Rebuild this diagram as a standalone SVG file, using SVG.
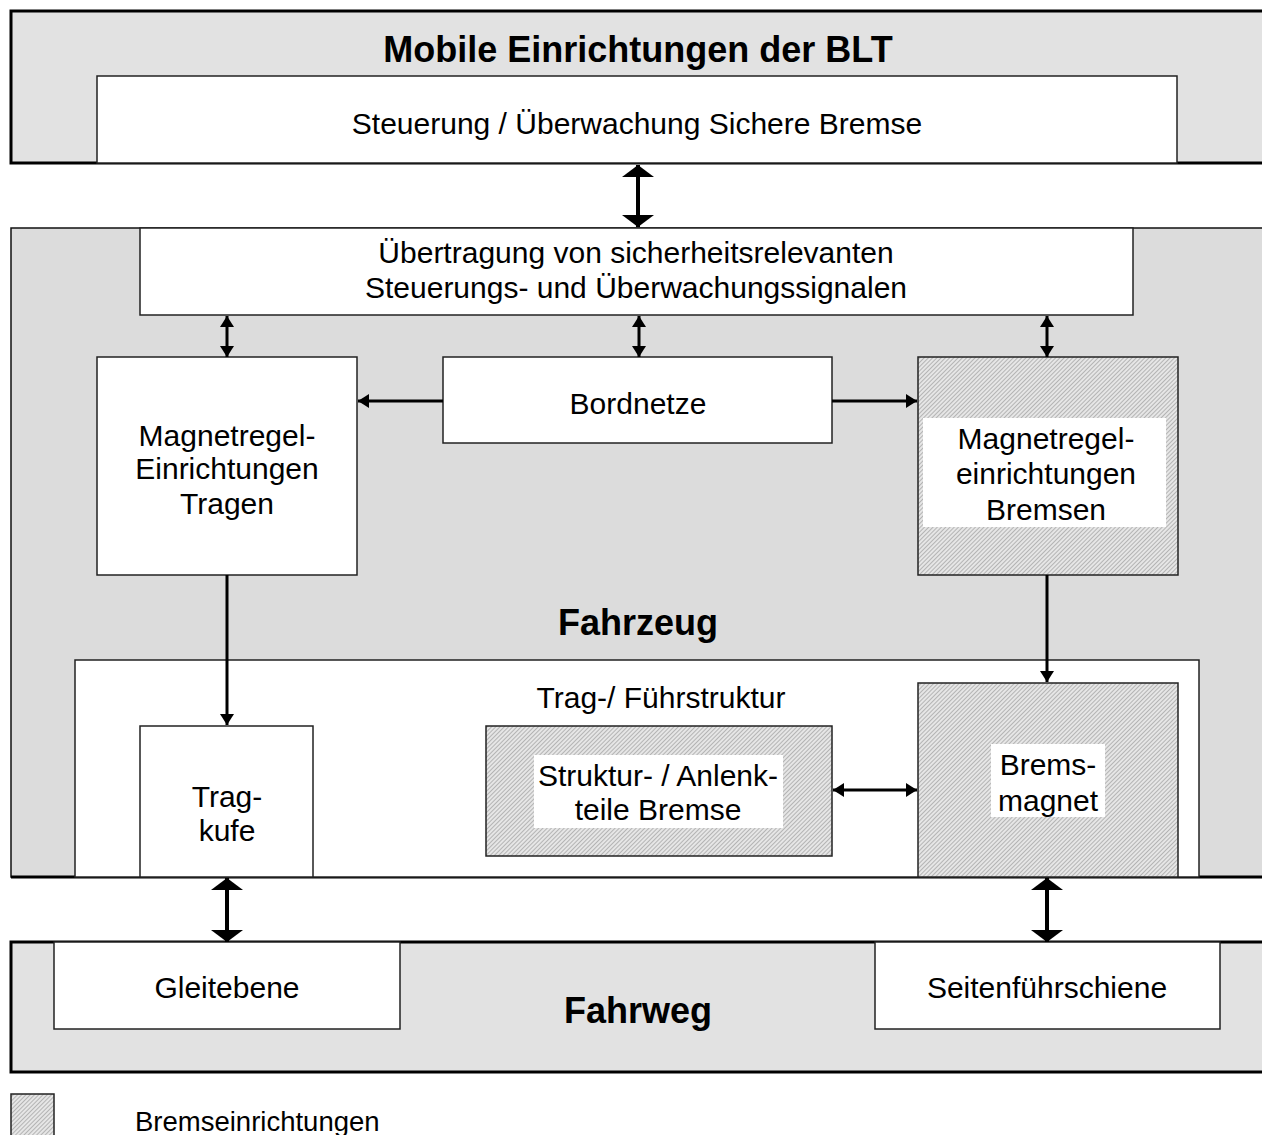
<svg xmlns="http://www.w3.org/2000/svg" width="1262" height="1135" viewBox="0 0 1262 1135">
<style>
text{font-family:"Liberation Sans",Arial,sans-serif;fill:#000;text-anchor:middle}
.t{font-size:30px}
.b{font-size:36px;font-weight:bold}
.panel{fill:#e2e2e2;stroke:#000;stroke-width:3}
.mid{fill:#dcdcdc;stroke:#111;stroke-width:1.5}
.box{fill:#fff;stroke:#222;stroke-width:1.5}
.hat{fill:url(#hatch);stroke:#222;stroke-width:1.5}
.bg{fill:#fff;stroke:none}
.c{stroke:#000;fill:none}
</style>
<defs>
<pattern id="hatch" patternUnits="userSpaceOnUse" width="3" height="3" patternTransform="rotate(45)">
<rect width="3" height="3" fill="#e6e6e6"/>
<rect width="1" height="3" fill="#b4b4b4"/>
</pattern>
<marker id="bigE" markerUnits="userSpaceOnUse" viewBox="0 0 12 32" refX="12" refY="16" markerWidth="12" markerHeight="32" orient="auto-start-reverse">
<path d="M0,0 L12,16 L0,32 Z" fill="#000"/>
</marker>
<marker id="smE" markerUnits="userSpaceOnUse" viewBox="0 0 11 14" refX="11" refY="7" markerWidth="11" markerHeight="14" orient="auto-start-reverse">
<path d="M0,0 L11,7 L0,14 Z" fill="#000"/>
</marker>
</defs>

<g id="panel-blt">
<rect class="panel" x="11" y="11" width="1280" height="152"/>
<text class="b" x="638" y="62">Mobile Einrichtungen der BLT</text>
</g>
<g id="steuerung">
<rect class="box" x="97" y="76" width="1080" height="87"/>
<text class="t" x="637" y="134">Steuerung / Überwachung Sichere Bremse</text>
</g>

<g id="panel-fahrzeug">
<rect class="mid" x="11" y="228" width="1280" height="649"/>
<line x1="11" y1="877" x2="1262" y2="877" stroke="#000" stroke-width="3"/>
<text class="b" x="638" y="635">Fahrzeug</text>
</g>
<g id="uebertragung">
<rect class="box" x="140" y="228" width="993" height="87"/>
<text class="t" x="636" y="263">Übertragung von sicherheitsrelevanten</text>
<text class="t" x="636" y="298">Steuerungs- und Überwachungssignalen</text>
</g>
<g id="mr-tragen">
<rect class="box" x="97" y="357" width="260" height="218"/>
<text class="t" x="227" y="446">Magnetregel-</text>
<text class="t" x="227" y="479">Einrichtungen</text>
<text class="t" x="227" y="514">Tragen</text>
</g>
<g id="bordnetze">
<rect class="box" x="443" y="357" width="389" height="86"/>
<text class="t" x="638" y="414">Bordnetze</text>
</g>
<g id="mr-bremsen">
<rect class="hat" x="918" y="357" width="260" height="218"/>
<rect class="bg" x="923" y="418" width="243" height="109"/>
<text class="t" x="1046" y="449">Magnetregel-</text>
<text class="t" x="1046" y="484">einrichtungen</text>
<text class="t" x="1046" y="520">Bremsen</text>
</g>
<g id="fuehrstruktur">
<rect class="box" x="75" y="660" width="1124" height="217"/>
<text class="t" x="661" y="708">Trag-/ Führstruktur</text>
</g>
<g id="tragkufe">
<rect class="box" x="140" y="726" width="173" height="151"/>
<text class="t" x="227" y="807">Trag-</text>
<text class="t" x="227" y="841">kufe</text>
</g>
<g id="anlenkteile">
<rect class="hat" x="486" y="726" width="346" height="130"/>
<rect class="bg" x="534" y="755" width="249" height="73"/>
<text class="t" x="658" y="786">Struktur- / Anlenk-</text>
<text class="t" x="658" y="820">teile Bremse</text>
</g>
<g id="bremsmagnet">
<rect class="hat" x="918" y="683" width="260" height="194"/>
<rect class="bg" x="991" y="744" width="114" height="73"/>
<text class="t" x="1048" y="775">Brems-</text>
<text class="t" x="1048" y="811">magnet</text>
</g>

<g id="panel-fahrweg">
<rect class="panel" x="11" y="942" width="1280" height="130"/>
<text class="b" x="638" y="1023">Fahrweg</text>
</g>
<g id="gleitebene">
<rect class="box" x="54" y="942" width="346" height="87"/>
<text class="t" x="227" y="998">Gleitebene</text>
</g>
<g id="seitenfuehrschiene">
<rect class="box" x="875" y="942" width="345" height="87"/>
<text class="t" x="1047" y="998">Seitenführschiene</text>
</g>

<g id="legend">
<rect class="hat" x="11" y="1094" width="43" height="50" stroke="#000"/>
<text x="135" y="1131" style="text-anchor:start;font-size:27.5px">Bremseinrichtungen</text>
</g>

<g id="connectors">
<line class="c" x1="638" y1="165" x2="638" y2="227" stroke-width="4" marker-start="url(#bigE)" marker-end="url(#bigE)"/>
<line class="c" x1="227" y1="878" x2="227" y2="942" stroke-width="4" marker-start="url(#bigE)" marker-end="url(#bigE)"/>
<line class="c" x1="1047" y1="878" x2="1047" y2="942" stroke-width="4" marker-start="url(#bigE)" marker-end="url(#bigE)"/>
<line class="c" x1="227" y1="316" x2="227" y2="357" stroke-width="3" marker-start="url(#smE)" marker-end="url(#smE)"/>
<line class="c" x1="639" y1="316" x2="639" y2="357" stroke-width="3" marker-start="url(#smE)" marker-end="url(#smE)"/>
<line class="c" x1="1047" y1="316" x2="1047" y2="357" stroke-width="3" marker-start="url(#smE)" marker-end="url(#smE)"/>
<line class="c" x1="443" y1="401" x2="358" y2="401" stroke-width="3" marker-end="url(#smE)"/>
<line class="c" x1="832" y1="401" x2="917" y2="401" stroke-width="3" marker-end="url(#smE)"/>
<line class="c" x1="227" y1="575" x2="227" y2="725" stroke-width="3" marker-end="url(#smE)"/>
<line class="c" x1="1047" y1="575" x2="1047" y2="682" stroke-width="3" marker-end="url(#smE)"/>
<line class="c" x1="833" y1="790" x2="917" y2="790" stroke-width="3" marker-start="url(#smE)" marker-end="url(#smE)"/>
</g>
</svg>
